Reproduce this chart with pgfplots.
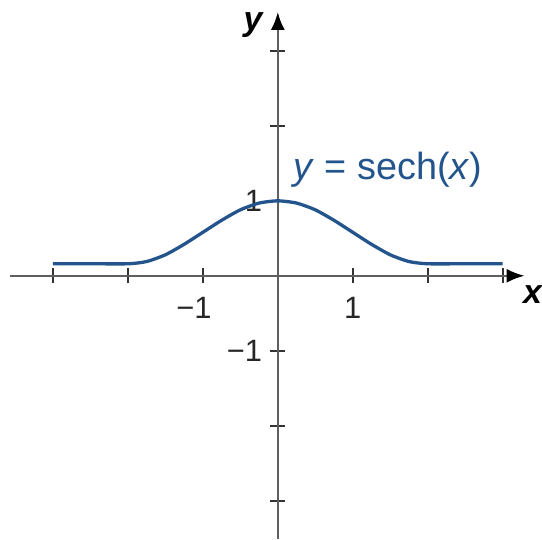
\documentclass[border=0pt]{standalone}
\usepackage{fontspec}
\setmainfont{Liberation Sans}
\usepackage{pgfplots}
\pgfplotsset{compat=1.18}
\usetikzlibrary{arrows.meta}
\definecolor{curveblue}{RGB}{35,85,140}
\definecolor{axisgray}{RGB}{95,95,95}
\begin{document}
\begin{tikzpicture}
\begin{axis}[
  x=75bp, y=75bp,
  xmin=-3.573, xmax=3.293, ymin=-3.507, ymax=3.52,
  axis lines=middle,
  clip=false,
  axis line style={axisgray, line width=2.3bp},
  every inner x axis line/.append style={-{Latex[length=18bp,width=14bp,color=black]}},
  every inner y axis line/.append style={-{Latex[length=18bp,width=14bp,color=black]}},
  xtick={-3,-2,-1,1,2,3},
  ytick={-3,-2,-1,1,2,3},
  xticklabels={{},{},{\llap{−}1},{1},{},{}},
  yticklabels={{},{},{−1},{1},{},{}},
  tick align=center,
  major tick length=15bp,
  tick style={black!80, line width=1.9bp},
  xticklabel style={anchor=north, inner sep=0pt, yshift=-14bp, font=\fontsize{31}{36}\selectfont, text=black!85},
  yticklabel style={anchor=east, inner sep=0pt, xshift=-8bp, font=\fontsize{31}{36}\selectfont, text=black!85},
]
\addplot[curveblue, line width=3.3bp, smooth, tension=0.4] coordinates {
(-3,0.16) (-2.5,0.16) (-2,0.16) (-1.75,0.19) (-1.5,0.28) (-1.25,0.42) (-1,0.58)
(-0.75,0.74) (-0.5,0.88) (-0.25,0.97) (0,1.0) (0.25,0.97) (0.5,0.88) (0.75,0.74)
(1,0.58) (1.25,0.42) (1.5,0.28) (1.75,0.19) (2,0.16) (2.5,0.16) (3,0.16)
};
\node[text=curveblue, font=\fontsize{38}{42}\selectfont, inner sep=0pt] at (axis cs:1.47,1.42) {\textit{y}\hspace{0.28em}=\hspace{0.28em}sech(\textit{x})};
\node[font=\fontsize{34}{38}\selectfont\bfseries\itshape, inner sep=0pt] at (axis cs:-0.33,3.35) {y};
\node[font=\fontsize{34}{38}\selectfont\bfseries\itshape, inner sep=0pt] at (axis cs:3.4,-0.25) {x};
\path (axis cs:-3.707,-3.507) rectangle (axis cs:3.52,3.68);
\end{axis}
\end{tikzpicture}
\end{document}
